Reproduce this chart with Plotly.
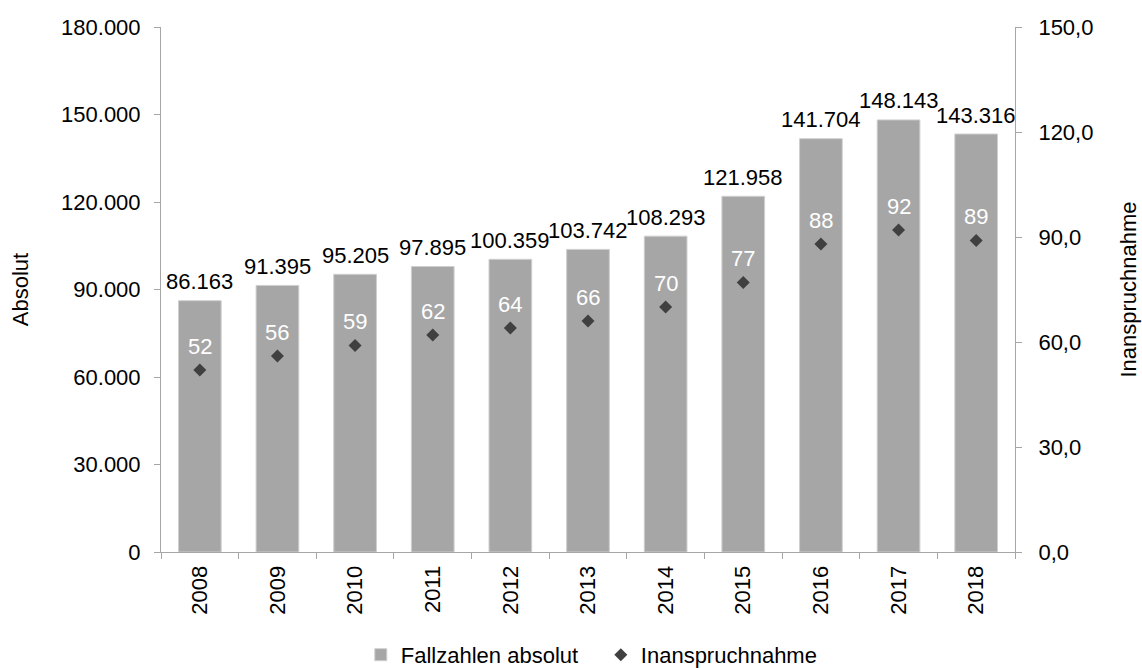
import plotly.graph_objects as go

years = ["2008", "2009", "2010", "2011", "2012", "2013", "2014", "2015", "2016", "2017", "2018"]
fallzahlen = [86163, 91395, 95205, 97895, 100359, 103742, 108293, 121958, 141704, 148143, 143316]
inanspruchnahme = [52, 56, 59, 62, 64, 66, 70, 77, 88, 92, 89]

left_ticks = [0, 30000, 60000, 90000, 120000, 150000, 180000]
right_ticks = [0, 30, 60, 90, 120, 150]

FONT = "Liberation Sans, Arial, sans-serif"
AX = "#a6a6a6"
FS = 22

def de_int(v):
    return f"{v:,}".replace(",", ".")

n = len(years)
boundaries = [i - 0.5 for i in range(n + 1)]

fig = go.Figure()
fig.add_trace(go.Bar(
    x=years, y=fallzahlen, name="Fallzahlen absolut",
    marker=dict(color="#a6a6a6", line=dict(color="#cfcfcf", width=1)),
    width=0.55, xaxis="x", yaxis="y",
))
fig.add_trace(go.Scatter(
    x=years, y=inanspruchnahme, name="Inanspruchnahme", mode="markers",
    marker=dict(symbol="diamond", size=10, color="#404040"),
    xaxis="x", yaxis="y2",
))

annotations = []
# category index used as x (numeric-looking category strings would be read as indices)
for i, v in enumerate(fallzahlen):
    annotations.append(dict(x=i, y=v, xref="x", yref="y", text=de_int(v),
                            showarrow=False, yanchor="middle", yshift=19,
                            font=dict(family=FONT, size=FS, color="#000000")))
for i, v in enumerate(inanspruchnahme):
    annotations.append(dict(x=i, y=v, xref="x", yref="y2", text=str(v),
                            showarrow=False, yanchor="middle", yshift=24,
                            font=dict(family=FONT, size=FS, color="#ffffff")))

axis_common = dict(showline=True, linecolor=AX, linewidth=1, tickcolor=AX,
                   ticklen=6, showgrid=False, zeroline=False, automargin=False,
                   tickfont=dict(family=FONT, size=FS, color="#000000"))

fig.update_layout(
    width=1142, height=668,
    margin=dict(l=161, r=127, t=27, b=116, autoexpand=False),
    paper_bgcolor="white", plot_bgcolor="white",
    separators=",.",
    font=dict(family=FONT, size=FS, color="#000000"),
    xaxis=dict(**axis_common, ticks="outside", tickson="boundaries",
               tickangle=-90, type="category", range=[-0.5, n - 0.5],
               ticklabelstandoff=4),
    xaxis2=dict(overlaying="x", anchor="y", side="bottom", type="linear",
                range=[-0.5, n - 0.5], tickvals=boundaries,
                ticks="inside", ticklen=6, tickcolor=AX, automargin=False,
                showticklabels=False, showline=False, showgrid=False, zeroline=False),
    yaxis=dict(**axis_common, ticks="outside", range=[0, 180000],
               tickvals=left_ticks, tickformat=",d", ticklabelstandoff=9,
               title=dict(text="Absolut", standoff=26,
                          font=dict(family=FONT, size=FS))),
    yaxis2=dict(**axis_common, ticks="outside", range=[0, 150], overlaying="y",
                side="right", anchor="x", tickvals=right_ticks, tickformat=".1f",
                ticklabelstandoff=12,
                title=dict(text="Inanspruchnahme", standoff=28,
                           font=dict(family=FONT, size=FS))),
    yaxis3=dict(overlaying="y", anchor="x", side="left", range=[0, 180000],
                tickvals=left_ticks, ticks="inside", ticklen=6, tickcolor=AX,
                automargin=False,
                showticklabels=False, showline=False, showgrid=False, zeroline=False),
    yaxis4=dict(overlaying="y", anchor="x", side="right", range=[0, 150],
                tickvals=right_ticks, ticks="inside", ticklen=6, tickcolor=AX,
                automargin=False,
                showticklabels=False, showline=False, showgrid=False, zeroline=False),
    legend=dict(orientation="h", x=0.515, xanchor="center", y=-0.196,
                yanchor="middle", font=dict(family=FONT, size=FS),
                traceorder="normal", entrywidth=195, itemwidth=30),
    annotations=annotations,
)

fig.write_html("out.html", config={"displayModeBar": False},
               post_script="document.body.style.margin='0';")
